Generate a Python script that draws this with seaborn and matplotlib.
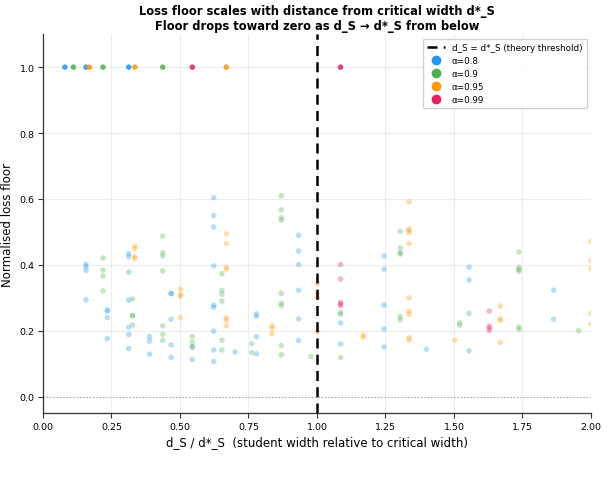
import numpy as np
import pandas as pd
import matplotlib
matplotlib.use("Agg")
import matplotlib.pyplot as plt
import seaborn as sns
from matplotlib.lines import Line2D

# ---- data ----
alpha_labels = ["α=0.8", "α=0.9", "α=0.95", "α=0.99"]
palette = ["#2196F3", "#4CAF50", "#FF9800", "#E91E63"]

blue_x = [0.080, 0.157, 0.235, 0.313, 0.389, 0.468, 0.545, 0.623, 0.701, 0.779, 0.933, 1.086, 1.245, 1.399, 1.555, 1.864]
blue_y = [[1.0], [1.0, 0.402, 0.395, 0.383, 0.294], [0.264, 0.259, 0.240, 0.176],
          [1.0, 0.434, 0.425, 0.378, 0.293, 0.211, 0.189, 0.146], [0.183, 0.169, 0.129],
          [0.313, 0.313, 0.235, 0.157, 0.119], [0.150, 0.113],
          [0.604, 0.550, 0.515, 0.397, 0.278, 0.271, 0.199, 0.142, 0.107], [0.136],
          [0.251, 0.244, 0.182, 0.130], [0.490, 0.442, 0.401, 0.323, 0.236, 0.171],
          [0.224, 0.160], [0.427, 0.387, 0.278, 0.206, 0.151], [0.144],
          [0.393, 0.354, 0.253, 0.139], [0.323, 0.235]]

green_x = [0.111, 0.219, 0.327, 0.437, 0.545, 0.653, 0.762, 0.870, 0.978, 1.086, 1.304, 1.521, 1.737, 1.955]
green_y = [[1.0], [1.0, 0.421, 0.384, 0.366, 0.321], [0.297, 0.246, 0.246, 0.218],
           [1.0, 0.487, 0.437, 0.427, 0.382, 0.215, 0.189, 0.171], [0.183, 0.165, 0.152],
           [0.373, 0.322, 0.311, 0.290, 0.171, 0.142], [0.161, 0.134],
           [0.610, 0.567, 0.543, 0.536, 0.314, 0.284, 0.276, 0.155, 0.127], [0.122],
           [0.256, 0.250, 0.119], [0.502, 0.451, 0.437, 0.433, 0.243, 0.233], [0.224, 0.217],
           [0.439, 0.392, 0.386, 0.380, 0.211, 0.205], [0.201]]

orange_x = [0.169, 0.335, 0.502, 0.669, 0.836, 1.002, 1.169, 1.336, 1.502, 1.669, 2.0]
orange_y = [[1.0], [1.0, 0.457, 0.449, 0.425, 0.419], [0.326, 0.310, 0.305, 0.240],
            [1.0, 0.494, 0.465, 0.393, 0.386, 0.240, 0.232, 0.215], [0.215, 0.208, 0.191],
            [0.344, 0.316, 0.301, 0.197], [0.187, 0.180],
            [0.591, 0.509, 0.504, 0.498, 0.465, 0.300, 0.260, 0.250, 0.179, 0.172], [0.171],
            [0.275, 0.237, 0.231, 0.165], [0.471, 0.412, 0.388, 0.253, 0.221]]

pink_x = [0.545, 1.086, 1.629]
pink_y = [[1.0], [1.0, 0.401, 0.357, 0.286, 0.281, 0.276], [0.260, 0.214, 0.208, 0.201]]

xticks = [0.0, 0.25, 0.5, 0.75, 1.0, 1.25, 1.5, 1.75, 2.0]
yticks = [0.0, 0.2, 0.4, 0.6, 0.8, 1.0]

rows = []
for lab, xs, ys in zip(alpha_labels, [blue_x, green_x, orange_x, pink_x],
                       [blue_y, green_y, orange_y, pink_y]):
    for xv, col in zip(xs, ys):
        for yv in col:
            rows.append((xv, yv, lab))
df = pd.DataFrame(rows, columns=["ratio", "floor", "alpha"])

sns.set_theme(style="ticks")
plt.rcParams['font.family'] = ['DejaVu Sans']
plt.rcParams['text.color'] = 'black'
plt.rcParams['axes.labelcolor'] = 'black'
plt.rcParams['xtick.color'] = '#333333'
plt.rcParams['ytick.color'] = '#333333'

fig = plt.figure(figsize=(6.08, 4.89), dpi=100)
ax = fig.add_axes([0.0707, 0.153, 0.9013, 0.775])

ax.grid(True, color="#e8e8e8", linewidth=0.8, alpha=0.8)
ax.set_axisbelow(True)
ax.axhline(0, color="#aaaaaa", linestyle=":", linewidth=0.9, zorder=1)

low = df[df["floor"] < 1.0]
high = df[df["floor"] >= 1.0]
sns.scatterplot(data=low, x="ratio", y="floor", hue="alpha", hue_order=alpha_labels,
                palette=palette, s=16, alpha=0.32, linewidth=0, ax=ax, legend=False, zorder=2)
sns.scatterplot(data=high, x="ratio", y="floor", hue="alpha", hue_order=alpha_labels,
                palette=palette, s=16, alpha=0.85, linewidth=0, ax=ax, legend=False, zorder=3)

ax.axvline(1.0, color="black", linestyle=(0, (4, 2.5)), linewidth=1.8, zorder=4)

ax.set_xlim(0, 2.0)
ax.set_ylim(-0.05, 1.1)
ax.set_xticks(xticks)
ax.set_xticklabels([f"{t:.2f}" for t in xticks])
ax.set_yticks(yticks)
ax.set_yticklabels([f"{t:.1f}" for t in yticks])
ax.tick_params(labelsize=6.8, length=3.5, width=0.8, pad=2.5, labelcolor="black")
for s in ["left", "bottom"]:
    ax.spines[s].set_linewidth(0.9)
    ax.spines[s].set_color("#333333")
sns.despine(ax=ax)

ax.set_xlabel("d_S / d*_S  (student width relative to critical width)", fontsize=8.5, labelpad=3)
ax.set_ylabel("Normalised loss floor", fontsize=8.5, labelpad=4)
ax.set_title("Loss floor scales with distance from critical width d*_S\n"
             "Floor drops toward zero as d_S → d*_S from below",
             fontsize=8.3, fontweight="bold", pad=4, linespacing=1.12, color="black")

handles = [Line2D([0], [0], color="black", linestyle=(0, (4, 2.5)), linewidth=1.8,
                  label="d_S = d*_S (theory threshold)")]
for lab, c in zip(alpha_labels, palette):
    handles.append(Line2D([0], [0], marker="o", linestyle="", markerfacecolor=c,
                          markeredgecolor=c, markersize=6, label=lab))
ax.legend(handles=handles, loc="upper right", fontsize=6.3, frameon=True,
          framealpha=0.9, edgecolor="#cccccc", handlelength=2.0, borderpad=0.5,
          labelspacing=0.45)

fig.savefig("out.png", dpi=100)
